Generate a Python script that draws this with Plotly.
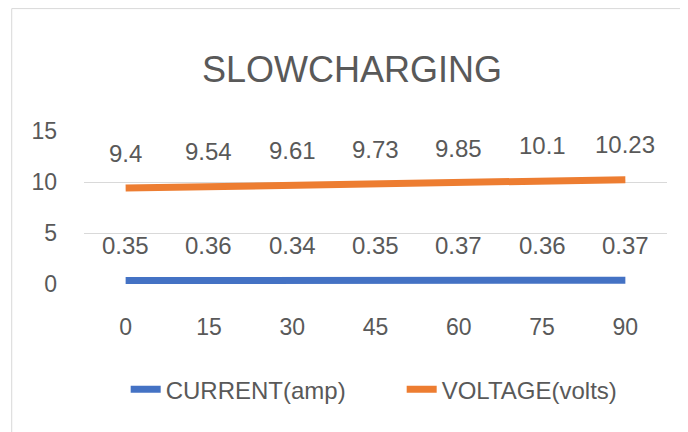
import plotly.graph_objects as go

categories = [0, 15, 30, 45, 60, 75, 90]
current_amp = [0.35, 0.36, 0.34, 0.35, 0.37, 0.36, 0.37]
voltage_volts = [9.4, 9.54, 9.61, 9.73, 9.85, 10.1, 10.23]
y_ticks = [0, 5, 10, 15]

BLUE = "#4472C4"
ORANGE = "#ED7D31"
TEXT = "#595959"
GRID = "#D9D9D9"
FONT = "Liberation Sans, Arial, sans-serif"

fig = go.Figure()
fig.add_trace(go.Scatter(x=categories, y=current_amp, mode="lines",
                         name="CURRENT(amp)", line=dict(color=BLUE, width=7)))
fig.add_trace(go.Scatter(x=categories, y=voltage_volts, mode="lines",
                         name="VOLTAGE(volts)", line=dict(color=ORANGE, width=7)))

annotations = []
for series in (current_amp, voltage_volts):
    for c, v in zip(categories, series):
        annotations.append(dict(x=c, y=v, xref="x", yref="y", text=f"{v:g}",
                                showarrow=False, yshift=35, yanchor="middle",
                                font=dict(size=24, color=TEXT, family=FONT)))

fig.update_layout(
    width=688, height=432,
    margin=dict(l=76, r=29, t=123, b=156, autoexpand=False),
    paper_bgcolor="white", plot_bgcolor="white",
    font=dict(family=FONT, color=TEXT),
    title=dict(text="SLOWCHARGING", x=0.5, xanchor="center", y=0.857,
               yanchor="middle", yref="container",
               font=dict(size=36, color=TEXT, family=FONT)),
    showlegend=True,
    legend=dict(orientation="h", x=0.0715, xanchor="left", y=-0.69,
                yanchor="middle", font=dict(size=24, color=TEXT, family=FONT),
                entrywidth=231),
    annotations=annotations,
    shapes=[dict(type="rect", xref="paper", yref="paper",
                 x0=-0.124, x1=2, y0=-2, y1=1.80,
                 line=dict(color=GRID, width=1), fillcolor="rgba(0,0,0,0)",
                 layer="below")],
)
fig.update_xaxes(range=[-7.5, 97.5], tickvals=categories, showgrid=False,
                 showline=False, zeroline=False, ticks="",
                 ticklabelstandoff=27,
                 tickfont=dict(size=23, color=TEXT, family=FONT))
fig.update_yaxes(range=[0, 15], tickvals=y_ticks, showgrid=True, gridcolor=GRID,
                 gridwidth=1, zeroline=False, showline=False, ticks="",
                 ticklabelstandoff=26,
                 tickfont=dict(size=23, color=TEXT, family=FONT))

fig.write_html("out.html")
